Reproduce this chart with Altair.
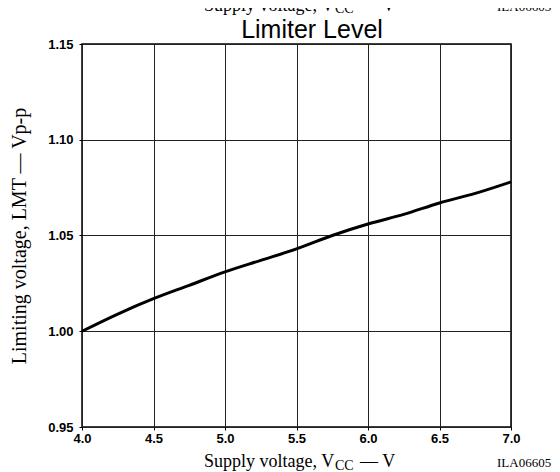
import altair as alt
import pandas as pd

# Data
vcc = [4.0, 4.25, 4.5, 4.75, 5.0, 5.25, 5.5, 5.75, 6.0, 6.25, 6.5, 6.75, 7.0]
lmt = [1.000, 1.009, 1.017, 1.024, 1.031, 1.037, 1.043, 1.050, 1.056, 1.061, 1.067, 1.072, 1.078]
x_ticks = [4.0, 4.5, 5.0, 5.5, 6.0, 6.5, 7.0]
y_ticks = [0.95, 1.00, 1.05, 1.10, 1.15]

title_text = "Limiter Level"
y_title = "Limiting voltage, LMT — Vp-p"
x_title_main = "Supply voltage, V"
x_title_sub = "CC"
x_title_tail = "— V"
fig_code = "ILA06605"
prev_code = "ILA06603"

df = pd.DataFrame({"vcc": vcc, "lmt": lmt})

W, H = 429, 383
SERIF = "Liberation Serif"
SANS = "Liberation Sans"

line = alt.Chart(df).mark_line(color="black", strokeWidth=3, interpolate="monotone").encode(
    x=alt.X("vcc:Q", scale=alt.Scale(domain=[4.0, 7.0], nice=False),
            axis=alt.Axis(values=x_ticks, format=".1f", title=None,
                          labelFont=SANS, labelFontSize=13, labelFontWeight="bold",
                          labelColor="black", labelPadding=2,
                          tickSize=3, tickColor="black", domain=False,
                          gridColor="#222", gridWidth=1, gridOpacity=1,
                          labelFlush=False)),
    y=alt.Y("lmt:Q", scale=alt.Scale(domain=[0.95, 1.15], nice=False, zero=False),
            axis=alt.Axis(values=y_ticks, format=".2f", title=None,
                          labelFont=SANS, labelFontSize=13, labelFontWeight="bold",
                          labelColor="black", labelPadding=6,
                          tickSize=3, tickColor="black", domain=False,
                          gridColor="#222", gridWidth=1, gridOpacity=1,
                          labelFlush=False)),
)

lab = pd.DataFrame({"t": [0]})

def txt(s, x, y, size, font=SERIF, align="left", baseline="alphabetic", angle=0):
    return alt.Chart(lab).mark_text(
        text=s, font=font, fontSize=size, align=align, baseline=baseline,
        color="black", angle=angle
    ).encode(x=alt.value(x), y=alt.value(y))

texts = [
    txt(title_text, 230, -6, 25, font=SANS, align="center"),
    txt(y_title, -62, 192, 20, align="center", baseline="middle", angle=270),
    txt(x_title_main, 122, 423, 18),
    txt(x_title_sub, 253, 426, 14),
    txt(x_title_tail, 278, 423, 18),
    txt(fig_code, 415, 423, 13),
    txt(x_title_main, 122, -33, 18),
    txt(x_title_sub, 253, -31, 14),
    txt(x_title_tail, 278, -33, 18),
    txt(prev_code, 415, -33, 13),
]

chart = alt.layer(line, *texts).properties(
    width=W, height=H,
    autosize=alt.AutoSizeParams(type="none"),
    padding={"left": 74, "top": 36, "right": 41, "bottom": 45},
).configure_view(stroke="black", strokeWidth=1.5)

chart.save("out.html", embed_options={"renderer": "svg", "actions": False})
